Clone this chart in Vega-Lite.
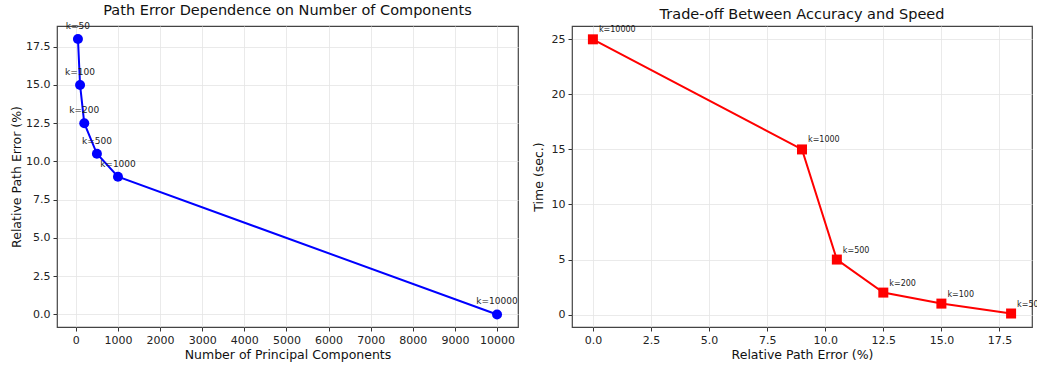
{
  "$schema": "https://vega.github.io/schema/vega-lite/v6.json",
  "padding": {"left": 9, "top": 1, "right": 0, "bottom": 0},
  "spacing": 12,
  "datasets": {
    "pts": [
      {"k": 50, "label": "k=50", "err": 18.0, "time": 0.1},
      {"k": 100, "label": "k=100", "err": 15.0, "time": 1.0},
      {"k": 200, "label": "k=200", "err": 12.5, "time": 2.0},
      {"k": 500, "label": "k=500", "err": 10.5, "time": 5.0},
      {"k": 1000, "label": "k=1000", "err": 9.0, "time": 15.0},
      {"k": 10000, "label": "k=10000", "err": 0.0, "time": 25.0}
    ]
  },
  "config": {
    "font": "DejaVu Sans",
    "view": {"stroke": "#444", "strokeWidth": 1.2},
    "axis": {
      "labelFont": "DejaVu Sans",
      "titleFont": "DejaVu Sans",
      "labelFontSize": 11,
      "titleFontSize": 12.5,
      "titleFontWeight": "normal",
      "labelColor": "#222",
      "titleColor": "#111",
      "gridColor": "#e4e4e4",
      "gridWidth": 0.8,
      "domain": false,
      "tickColor": "#333",
      "tickSize": 4,
      "labelPadding": 3
    },
    "title": {"font": "DejaVu Sans", "fontSize": 14.5, "fontWeight": "normal", "color": "#111", "offset": 0}
  },
  "hconcat": [
    {
      "title": "Path Error Dependence on Number of Components",
      "width": 461,
      "height": 301,
      "data": {"name": "pts"},
      "encoding": {
        "x": {"field": "k", "type": "quantitative", "title": "Number of Principal Components",
              "scale": {"domain": [-447.5, 10497.5], "nice": false, "zero": false},
              "axis": {"values": [0,1000,2000,3000,4000,5000,6000,7000,8000,9000,10000], "format": "d", "titlePadding": 3}},
        "y": {"field": "err", "type": "quantitative", "title": "Relative Path Error (%)",
              "scale": {"domain": [-0.82, 18.85], "nice": false, "zero": false},
              "axis": {"values": [0,2.5,5,7.5,10,12.5,15,17.5], "format": ".1f", "titlePadding": 2}}
      },
      "layer": [
        {"mark": {"type": "line", "color": "#0000ff", "strokeWidth": 2}},
        {"mark": {"type": "point", "shape": "circle", "filled": true, "color": "#0000ff", "size": 100, "opacity": 1}},
        {"mark": {"type": "text", "fontSize": 9, "color": "#222", "dy": -13, "baseline": "middle", "align": "center"},
         "encoding": {"text": {"field": "label"}}}
      ]
    },
    {
      "title": "Trade-off Between Accuracy and Speed",
      "width": 460,
      "height": 301,
      "data": {"name": "pts"},
      "encoding": {
        "x": {"field": "err", "type": "quantitative", "title": "Relative Path Error (%)",
              "scale": {"domain": [-0.9, 18.9], "nice": false, "zero": false},
              "axis": {"values": [0,2.5,5,7.5,10,12.5,15,17.5], "format": ".1f", "titlePadding": 3}},
        "y": {"field": "time", "type": "quantitative", "title": "Time (sec.)",
              "scale": {"domain": [-1.125, 26.21], "nice": false, "zero": false},
              "axis": {"values": [0,5,10,15,20,25], "format": "d", "titlePadding": 6}}
      },
      "layer": [
        {"mark": {"type": "line", "color": "#ff0000", "strokeWidth": 2}},
        {"mark": {"type": "point", "shape": "square", "filled": true, "color": "#ff0000", "size": 100, "opacity": 1}},
        {"mark": {"type": "text", "fontSize": 8, "color": "#222", "dx": 6, "dy": -9, "baseline": "middle", "align": "left"},
         "encoding": {"text": {"field": "label"}}}
      ]
    }
  ]
}
